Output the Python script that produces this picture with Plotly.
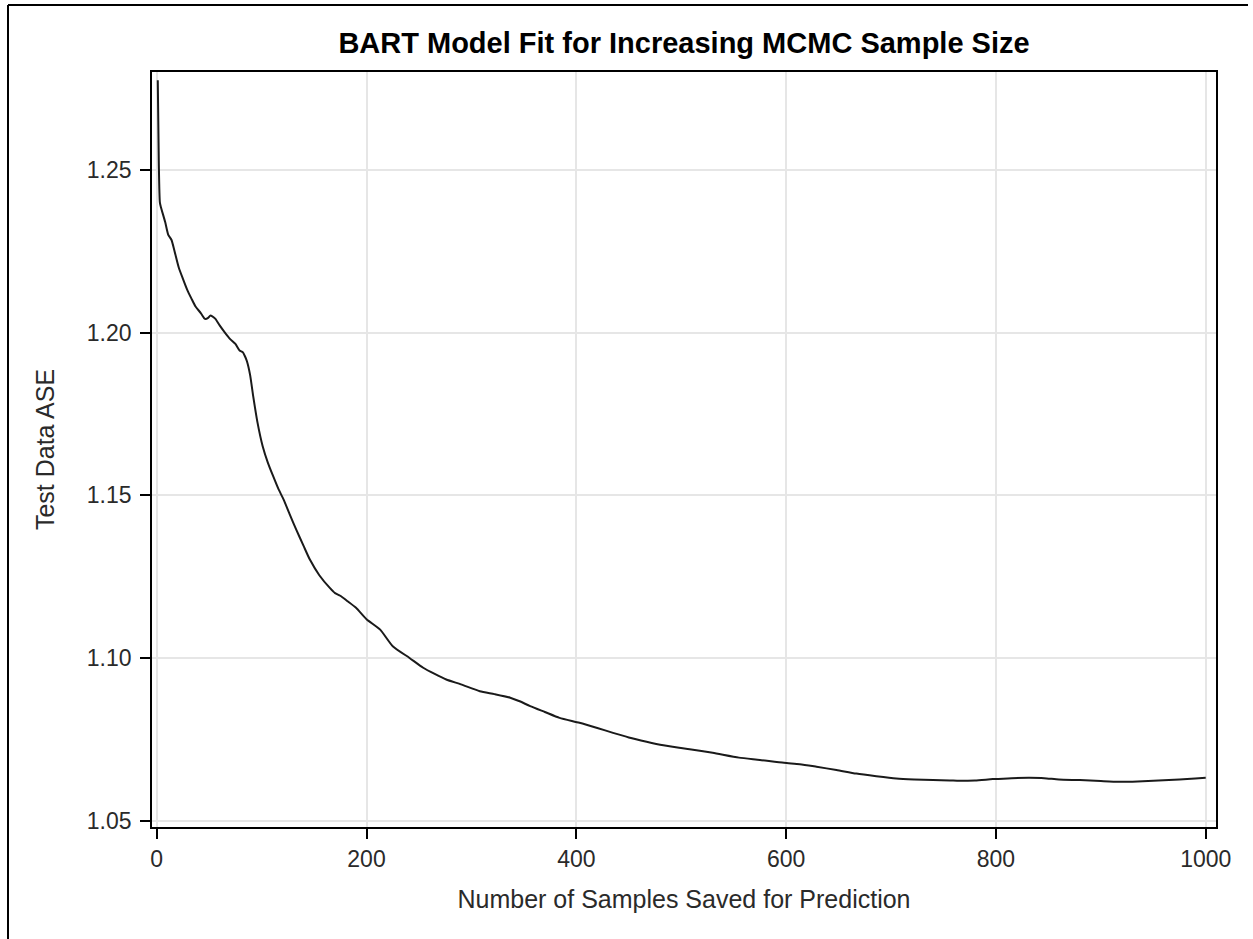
import plotly.graph_objects as go

# Data
samples = [1, 2, 3, 4, 8, 11, 14, 17, 21, 25, 29, 33, 37, 42, 46, 49, 51, 53, 56, 60, 65, 70, 75, 79, 82, 84, 86, 89, 92,
           96, 101, 106, 111, 116, 121, 127, 133, 140, 146, 155, 165, 170, 175, 182, 190, 200, 213, 225, 241, 254, 265,
           276, 290, 308, 322, 337, 346, 356, 370, 384, 403, 420, 435, 450, 467, 483, 498, 508, 530, 555, 575, 598, 613,
           629, 648, 667, 686, 705, 722, 740, 756, 765, 780, 797, 815, 832, 846, 860, 880, 900, 917, 935, 955, 975, 990,
           1000]
ase = [1.2775, 1.2520, 1.2400, 1.2385, 1.2340, 1.2300, 1.2285, 1.2250, 1.2200, 1.2165, 1.2132, 1.2105, 1.2080, 1.2060,
       1.2042, 1.2045, 1.2052, 1.2050, 1.2042, 1.2022, 1.2000, 1.1980, 1.1965, 1.1945, 1.1940, 1.1928, 1.1912, 1.1870,
       1.1804, 1.1725, 1.1651, 1.1600, 1.1559, 1.1520, 1.1487, 1.1440, 1.1395, 1.1345, 1.1303, 1.1255, 1.1216, 1.1200,
       1.1192, 1.1175, 1.1155, 1.1120, 1.1088, 1.1037, 1.1001, 1.0971, 1.0952, 1.0935, 1.0920, 1.0899, 1.0890, 1.0879,
       1.0868, 1.0853, 1.0835, 1.0817, 1.0802, 1.0786, 1.0771, 1.0757, 1.0744, 1.0733, 1.0725, 1.0721, 1.0710, 1.0695,
       1.0688, 1.0679, 1.0675, 1.0667, 1.0657, 1.0646, 1.0638, 1.0631, 1.0628, 1.0626, 1.0625, 1.0624, 1.0625, 1.0629,
       1.0632, 1.0633, 1.0632, 1.0628, 1.0626, 1.0623, 1.0621, 1.0622, 1.0625, 1.0628, 1.0631, 1.0633]

x_ticks = [0, 200, 400, 600, 800, 1000]
y_ticks = [1.05, 1.10, 1.15, 1.20, 1.25]

title_text = "BART Model Fit for Increasing MCMC Sample Size"
x_title = "Number of Samples Saved for Prediction"
y_title = "Test Data ASE"

W, H = 1253, 939
L, R, T, B = 152, 1216, 72, 827

fig = go.Figure()
fig.add_trace(go.Scatter(
    x=samples, y=ase, mode="lines",
    line=dict(color="#1a1a1a", width=2, shape="spline", smoothing=0.6),
    hoverinfo="x+y", showlegend=False,
))

font_family = "Liberation Sans, Arial, sans-serif"
axis_common = dict(
    showline=True, linecolor="#000000", linewidth=1.8, mirror=True,
    ticks="outside", ticklen=10, tickwidth=1.5, tickcolor="#000000",
    showgrid=True, gridcolor="#e6e6e6", gridwidth=1.8,
    zeroline=False,
    tickfont=dict(family=font_family, size=23, color="#2a2a2a"),
    title_font=dict(family=font_family, size=25, color="#2a2a2a"),
)

fig.update_layout(
    width=W, height=H,
    margin=dict(l=L, r=W - R, t=T, b=H - B, autoexpand=False),
    paper_bgcolor="white", plot_bgcolor="white",
    title=dict(text="<b>" + title_text + "</b>", x=(L + R) / 2 / W, xanchor="center",
               y=1 - 43 / H, yanchor="middle",
               font=dict(family=font_family, size=29, color="#000000")),
    xaxis=dict(range=[-4.5, 1009.8], tickvals=x_ticks, ticktext=[str(v) for v in x_ticks],
               title=dict(text=x_title, standoff=20), **axis_common),
    yaxis=dict(range=[1.0482, 1.2800], tickvals=y_ticks, ticktext=["%.2f" % v for v in y_ticks],
               ticklabelstandoff=4,
               title=dict(text=y_title, standoff=25), **axis_common),
)

# Outer page frame (left and top edges)
def px_x(p):
    return (p - L) / (R - L)

def px_y(p):
    return (B - p) / (B - T)

fig.add_shape(type="line", xref="paper", yref="paper",
              x0=px_x(8), x1=px_x(8), y0=px_y(5), y1=px_y(H + 5),
              line=dict(color="#000000", width=2))
fig.add_shape(type="line", xref="paper", yref="paper",
              x0=px_x(8), x1=px_x(1248), y0=px_y(5), y1=px_y(5),
              line=dict(color="#000000", width=2))

fig.write_html("out.html", config={"displayModeBar": False},
               post_script="document.body.style.margin='0';document.body.style.overflow='hidden';")
